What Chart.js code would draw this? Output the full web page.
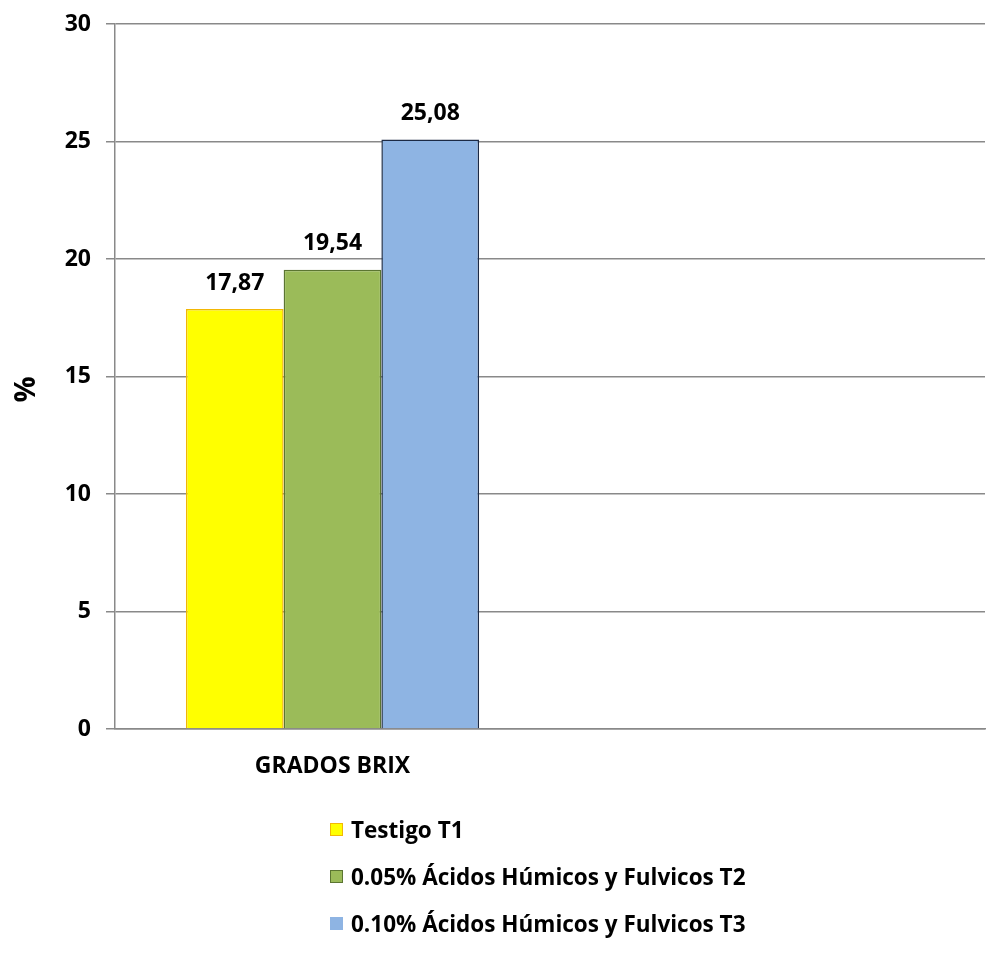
<!DOCTYPE html>
<html>
<head>
<meta charset="utf-8">
<script src="https://cdn.jsdelivr.net/npm/chart.js@4/dist/chart.umd.min.js"></script>
<style>
  body { margin: 0; background: #fff; font-family: "Open Sans", sans-serif; }
  #wrap { position: relative; width: 987px; height: 961px; }
  #legend { position: absolute; left: 330px; top: 814px; }
  .item { display: flex; align-items: center; height: 30px; margin-bottom: 17px; font-weight: 700; font-size: 22.5px; color: #000; white-space: nowrap; }
  .box { width: 13px; height: 13px; margin-right: 8px; box-sizing: border-box; border: 1.5px solid; }
</style>
</head>
<body>
<div id="wrap">
  <canvas id="chart" width="987" height="961"></canvas>
  <div id="legend"></div>
</div>
<script>
const categories = ["GRADOS BRIX", ""];
const seriesNames = ["Testigo T1", "0.05% Ácidos Húmicos y Fulvicos T2", "0.10% Ácidos Húmicos y Fulvicos T3"];
const t1 = [17.87, null];
const t2 = [19.54, null];
const t3 = [25.08, null];
const fills = ["#FFFF00", "#9BBB59", "#8EB4E3"];
const borders = ["#F2B705", "#5B7531", "#1C2A45"];
const yTicks = [0, 5, 10, 15, 20, 25, 30];
const yTitle = "%";

const FONT = "'Open Sans', sans-serif";

const valueLabels = {
  id: "valueLabels",
  afterDatasetsDraw(c) {
    const ctx = c.ctx;
    ctx.save();
    ctx.font = "bold 23px " + FONT;
    ctx.fillStyle = "#000";
    ctx.textAlign = "center";
    ctx.textBaseline = "middle";
    c.data.datasets.forEach((ds, i) => {
      c.getDatasetMeta(i).data.forEach((bar, j) => {
        const v = ds.data[j];
        if (v == null) return;
        ctx.fillText(v.toFixed(2).replace(".", ","), bar.x, bar.y - 26);
      });
    });
    // y axis title, sitting a little below the middle like the original
    const a = c.chartArea;
    ctx.translate(27, (a.top + a.bottom) / 2 + 13);
    ctx.rotate(-Math.PI / 2);
    ctx.font = "bold 29px " + FONT;
    ctx.fillText(yTitle, 0, 0);
    ctx.restore();
  }
};

const chart = new Chart(document.getElementById("chart"), {
  type: "bar",
  data: {
    labels: categories,
    datasets: [t1, t2, t3].map((d, i) => ({
      label: seriesNames[i],
      data: d,
      backgroundColor: fills[i],
      borderColor: borders[i],
      borderWidth: 1.5,
      categoryPercentage: 0.674,
      barPercentage: 1
    }))
  },
  options: {
    responsive: false,
    animation: false,
    layout: { padding: { top: 24, right: 2, left: 0, bottom: 0 } },
    plugins: { legend: { display: false }, tooltip: { enabled: false } },
    scales: {
      x: {
        grid: { display: false },
        border: { display: true, color: "#898989", width: 1.5 },
        ticks: { padding: 16, color: "#000", font: { family: FONT, size: 23, weight: "bold" } },
        afterFit(s) { s.height = 961 - 729; }
      },
      y: {
        min: 0, max: 30,
        afterBuildTicks(s) { s.ticks = yTicks.map(v => ({ value: v })); },
        grid: { color: "#898989", lineWidth: 1.5, tickLength: 9 },
        border: { display: true, color: "#898989", width: 1.5 },
        ticks: { padding: 15, color: "#000", font: { family: FONT, size: 23, weight: "bold" } },
        afterFit(s) { s.width = 115; s.paddingTop = 0; s.paddingBottom = 0; }
      }
    }
  },
  plugins: [valueLabels]
});

const legend = document.getElementById("legend");
seriesNames.forEach((name, i) => {
  const row = document.createElement("div");
  row.className = "item";
  const box = document.createElement("span");
  box.className = "box";
  box.style.background = fills[i];
  box.style.borderColor = i === 2 ? fills[i] : borders[i];
  row.appendChild(box);
  row.appendChild(document.createTextNode(name));
  legend.appendChild(row);
});
</script>
</body>
</html>
